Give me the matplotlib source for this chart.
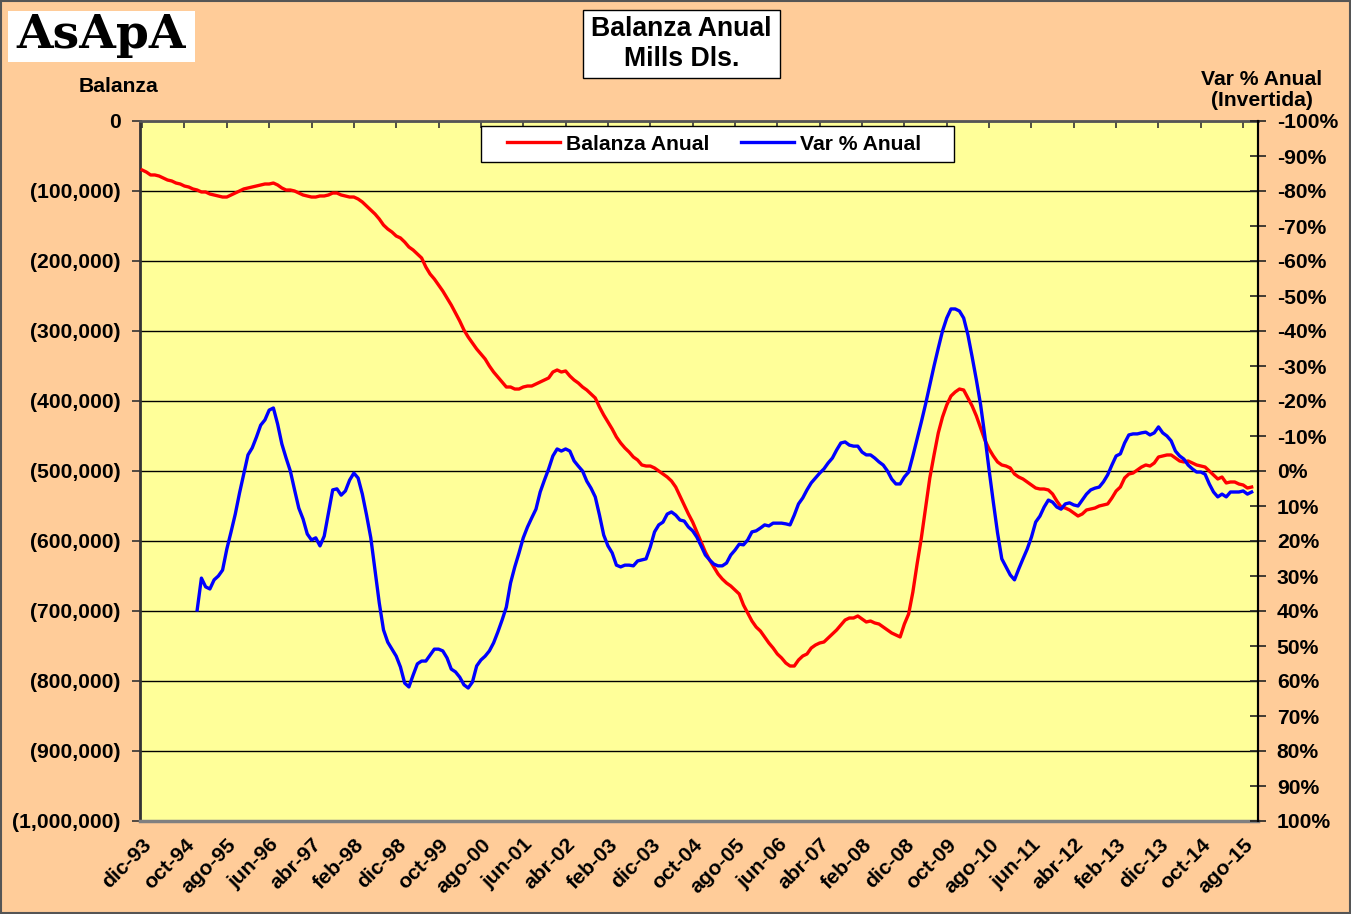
import numpy as np
import matplotlib
matplotlib.use("Agg")
import matplotlib.pyplot as plt
from matplotlib.patches import Rectangle
from matplotlib.lines import Line2D

# ---------------- data (monthly, dic-93 .. oct-15) ----------------
balanza_anual = [
    -70000, -72900, -77100, -77100, -78600, -81400, -84300, -85700, -88600, -90000,
    -92900, -94300, -97100, -98600, -101400, -101400, -104300, -105700, -107100, -108600,
    -108600, -105700, -102900, -100000, -97100, -95700, -94300, -92900, -91400, -90000,
    -90000, -88600, -91400, -95700, -98600, -98600, -100000, -102900, -105700, -107100,
    -108600, -108600, -107100, -107100, -105700, -102900, -102900, -105700, -107100, -108600,
    -108600, -111400, -115700, -121400, -127100, -132900, -140000, -148600, -154300, -158600,
    -164300, -167100, -172900, -180000, -184300, -190000, -195700, -208600, -218600, -225700,
    -234300, -242900, -252900, -262900, -274300, -285700, -298600, -308600, -317100, -325700,
    -332900, -340000, -350000, -358600, -365700, -372900, -380000, -380000, -382900, -382900,
    -380000, -378600, -378600, -375700, -372900, -370000, -367100, -358600, -355700, -358600,
    -357100, -364300, -370000, -374300, -380000, -384300, -390000, -395700, -408600, -420000,
    -430000, -440000, -451400, -460000, -467100, -472900, -480000, -484300, -491400, -492900,
    -492900, -495700, -500000, -504300, -508600, -514300, -522900, -535700, -548600, -561400,
    -572900, -587100, -601400, -615700, -627100, -637100, -647100, -654300, -660000, -664300,
    -670000, -675700, -691400, -702900, -714300, -722900, -728600, -737100, -745700, -752900,
    -761400, -767100, -774300, -778600, -778600, -770000, -764300, -761400, -752900, -748600,
    -745700, -744300, -738600, -732900, -727100, -720000, -712900, -710000, -710000, -707100,
    -711400, -715700, -714300, -717100, -718600, -722900, -727100, -731400, -734300, -737100,
    -718600, -704300, -672900, -632900, -595700, -552900, -510000, -477100, -445700, -422900,
    -405700, -392900, -387100, -382900, -384300, -395700, -407100, -421400, -438600, -455700,
    -468600, -478600, -487100, -491400, -492900, -495700, -504300, -508600, -511400, -515700,
    -520000, -524300, -525700, -525700, -527100, -532900, -542900, -551400, -552900, -555700,
    -560000, -564300, -561400, -555700, -554300, -552900, -550000, -548600, -547100, -538600,
    -528600, -522900, -510000, -504300, -502900, -498600, -494300, -491400, -492900, -488600,
    -480000, -478600, -477100, -477100, -481400, -485700, -487100, -485700, -488600, -491400,
    -492900, -494300, -500000, -505700, -511400, -508600, -517100, -515700, -515700, -518600,
    -520000, -524300, -522900,
]

var_pct_anual = [None] * 13 + [
    39.7, 30.6, 33.1, 33.7, 31.1, 30.0, 28.3,
    22.3, 17.4, 12.3, 6.3, 0.9, -4.6, -6.6, -9.7, -13.1, -14.6,
    -17.4, -18.0, -13.4, -7.7, -3.7, 0.0, 5.4, 10.6, 13.7, 18.0,
    19.7, 19.1, 21.4, 18.6, 12.0, 5.4, 5.1, 6.9, 5.7, 2.6,
    0.6, 2.0, 6.6, 12.6, 19.1, 28.3, 37.7, 45.4, 48.9, 50.9,
    52.9, 56.0, 60.6, 61.7, 58.3, 55.1, 54.3, 54.3, 52.6, 50.9,
    50.9, 51.4, 53.4, 56.6, 57.4, 58.9, 61.1, 62.0, 60.3, 55.7,
    54.0, 52.9, 51.4, 49.1, 46.0, 42.6, 38.9, 32.0, 27.4, 23.4,
    19.1, 16.0, 13.4, 10.9, 6.0, 2.6, -0.6, -4.3, -6.3, -5.7,
    -6.3, -5.7, -2.9, -1.4, 0.0, 2.9, 4.9, 7.4, 12.6, 18.3,
    21.4, 23.4, 26.9, 27.4, 26.9, 26.9, 27.1, 25.7, 25.4, 25.1,
    21.7, 17.4, 15.4, 14.6, 12.3, 11.7, 12.6, 14.0, 14.3, 16.0,
    17.1, 18.9, 21.4, 24.0, 25.4, 26.6, 27.1, 27.1, 26.3, 24.0,
    22.6, 20.9, 21.1, 19.7, 17.4, 17.1, 16.3, 15.4, 15.7, 14.9,
    14.9, 14.9, 15.1, 15.4, 12.6, 9.4, 7.7, 5.4, 3.4, 2.0,
    0.6, -0.6, -2.3, -3.7, -6.0, -8.0, -8.3, -7.4, -7.1, -7.1,
    -5.4, -4.6, -4.6, -3.7, -2.6, -1.7, 0.0, 2.3, 3.7, 3.7,
    1.7, 0.3, -4.3, -9.1, -14.0, -19.1, -24.6, -30.0, -35.1, -40.0,
    -43.7, -46.3, -46.3, -45.7, -43.7, -38.9, -32.6, -26.0, -18.9, -10.0,
    -0.3, 8.9, 17.7, 25.1, 27.4, 29.7, 31.1, 28.0, 25.1, 22.3,
    18.9, 14.6, 12.9, 10.3, 8.3, 8.9, 10.3, 10.9, 9.4, 9.1,
    9.7, 10.0, 8.3, 6.6, 5.4, 4.9, 4.6, 3.1, 1.1, -1.7,
    -4.3, -4.9, -8.0, -10.3, -10.6, -10.6, -10.9, -11.1, -10.3, -10.9,
    -12.6, -10.9, -10.0, -8.6, -5.7, -4.3, -3.4, -1.7, -0.6, 0.3,
    0.3, 0.9, 3.7, 6.0, 7.4, 6.6, 7.4, 6.0, 6.0, 6.0,
    5.7, 6.6, 6.0,
]

x_tick_labels = ["dic-93", "oct-94", "ago-95", "jun-96", "abr-97", "feb-98", "dic-98",
                 "oct-99", "ago-00", "jun-01", "abr-02", "feb-03", "dic-03", "oct-04",
                 "ago-05", "jun-06", "abr-07", "feb-08", "dic-08", "oct-09", "ago-10",
                 "jun-11", "abr-12", "feb-13", "dic-13", "oct-14", "ago-15"]
left_ticks = [0, -100000, -200000, -300000, -400000, -500000, -600000,
              -700000, -800000, -900000, -1000000]
right_ticks = [-100, -90, -80, -70, -60, -50, -40, -30, -20, -10, 0,
               10, 20, 30, 40, 50, 60, 70, 80, 90, 100]

# ---------------- style ----------------
FONT = "Liberation Sans"
plt.rcParams["font.family"] = [FONT, "DejaVu Sans"]
plt.rcParams["font.weight"] = "bold"
BG = "#FFCC99"
PLOT_BG = "#FFFF99"
W, H = 1351, 914
TS = 15.2

fig = plt.figure(figsize=(W / 100, H / 100), dpi=100, facecolor=BG)

def fx(px):
    return px / W

def fy(py):
    return 1 - py / H

L, R, T, B = 140, 1258, 121, 821
ax = fig.add_axes([fx(L), fy(B), fx(R) - fx(L), fy(T) - fy(B)])
ax.set_facecolor(PLOT_BG)

n = len(balanza_anual)
x = np.arange(n)
yb = np.array([np.nan if v is None else v for v in var_pct_anual], dtype=float)

ax.plot(x, balanza_anual, color="#FF0000", lw=2.4, zorder=3, label="Balanza Anual")
ax.set_xlim(-0.5, 263.5)
ax.set_ylim(-1000000, 0)
ax.set_yticks(left_ticks)
ax.set_yticklabels(["0" if v == 0 else "({:,})".format(-v) for v in left_ticks],
                   fontsize=TS, fontweight="bold")
ax.yaxis.grid(True, color="#000000", lw=1.0)
ax.set_axisbelow(True)
ax.tick_params(axis="y", direction="out", length=6, width=1.2, pad=8.0, color="#333333")

xt = np.arange(0, n, 10)
ax.set_xticks(xt)
ax.set_xticklabels(x_tick_labels, rotation=45, ha="right", va="top",
                   rotation_mode="anchor", fontsize=TS, fontweight="bold")
ax.tick_params(axis="x", which="both", bottom=False, top=True, direction="in",
               length=5, width=1.2, color="#333333", pad=10)

ax.spines["left"].set_color("#333333"); ax.spines["left"].set_linewidth(2)
ax.spines["bottom"].set_color("#808080"); ax.spines["bottom"].set_linewidth(2.5)
ax.spines["top"].set_color("#555555"); ax.spines["top"].set_linewidth(2)
ax.spines["right"].set_color("#000000"); ax.spines["right"].set_linewidth(1.5)

ax2 = ax.twinx()
ax2.plot(x, yb, color="#0000FF", lw=2.4, zorder=3, label="Var % Anual")
ax2.set_ylim(100, -100)
ax2.set_yticks(right_ticks)
ax2.set_yticklabels(["{}%".format(v) for v in right_ticks], fontsize=TS, fontweight="bold")
ax2.tick_params(axis="y", direction="inout", length=12, width=1.2, pad=7.5, color="#222222")
ax2.spines["right"].set_color("#000000"); ax2.spines["right"].set_linewidth(1.5)
for s in ("left", "top", "bottom"):
    ax2.spines[s].set_visible(False)

# legend frame drawn as a box, legend entries centred inside it
def ax_xy(px, py):
    return (px - L) / (R - L), (B - py) / (B - T)

lx0, ly0 = ax_xy(481, 162)
lx1, ly1 = ax_xy(954, 126)
ax2.add_patch(Rectangle((lx0, ly0), lx1 - lx0, ly1 - ly0, transform=ax2.transAxes,
                        facecolor="white", edgecolor="#000000", lw=1.0, zorder=5))
handles = [Line2D([], [], color="#FF0000", lw=2.4), Line2D([], [], color="#0000FF", lw=2.4)]
leg = ax2.legend(handles, ["Balanza Anual", "Var % Anual"], ncol=2, loc="center",
                 bbox_to_anchor=((lx0 + lx1) / 2 - 0.003, (ly0 + ly1) / 2),
                 frameon=False, handlelength=2.5, handletextpad=0.3, columnspacing=1.5,
                 borderpad=0.2, prop={"family": FONT, "weight": "bold", "size": TS})
leg.set_zorder(6)

# ---------------- annotations ----------------
fig.patches.append(Rectangle((fx(583), fy(78)), fx(780) - fx(583), fy(10) - fy(78),
                             transform=fig.transFigure, facecolor="white",
                             edgecolor="#000000", lw=1.0))
fig.text(fx(681.5), fy(44), "Balanza Anual\nMills Dls.", ha="center", va="center",
         fontsize=19.2, fontweight="bold", linespacing=1.25)

fig.patches.append(Rectangle((fx(8), fy(62)), fx(195) - fx(8), fy(11) - fy(62),
                             transform=fig.transFigure, facecolor="white",
                             edgecolor="none"))
fig.text(fx(101), fy(35), "AsApA", ha="center", va="center", fontsize=34,
         fontweight="bold", family="DejaVu Serif")

fig.text(fx(119), fy(86), "Balanza", ha="center", va="center", fontsize=TS,
         fontweight="bold")
fig.text(fx(1262), fy(90), "Var % Anual\n(Invertida)", ha="center", va="center",
         fontsize=TS, fontweight="bold", linespacing=1.15)

fig.patches.append(Rectangle((0.0008, 0.001), 0.9985, 0.998, transform=fig.transFigure,
                             facecolor="none", edgecolor="#555555", lw=1.5))

fig.savefig("out.png", dpi=100, facecolor=BG)
